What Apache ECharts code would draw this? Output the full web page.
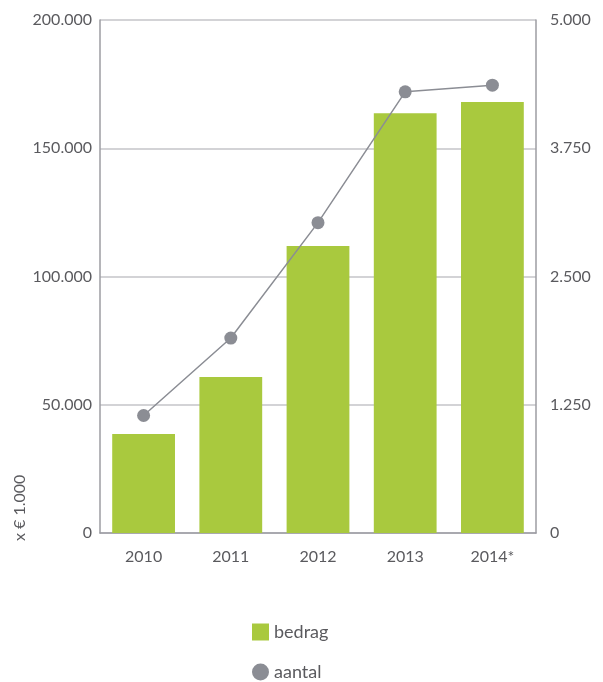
<!DOCTYPE html>
<html>
<head>
<meta charset="utf-8">
<style>
  html, body { margin: 0; padding: 0; background: #fff; }
  #chart { width: 603px; height: 682px; }
</style>
<script src="https://cdn.jsdelivr.net/npm/echarts@6/dist/echarts.min.js"></script>
</head>
<body>
<div id="chart"></div>
<script>
// Jaren, bedrag (x € 1.000) en aantal
const years = ['2010', '2011', '2012', '2013', '2014*'];
const bedrag = [38600, 60800, 111900, 163600, 168000];
const aantal = [1145, 1900, 3025, 4300, 4365];

const leftTicks = [0, 50000, 100000, 150000, 200000];
const rightTicks = [0, 1250, 2500, 3750, 5000];

const fmt = v => v === 0 ? '0' : String(v).replace(/\B(?=(\d{3})+(?!\d))/g, '.');

const FONT = 'Lato, "Noto Sans", sans-serif';
const TEXT = '#5a5a5e';
const AXIS = '#9c9ca2';
const GRID = '#c4c4c8';

const legendText = { color: TEXT, fontSize: 18, fontFamily: FONT };

const chart = echarts.init(document.getElementById('chart'), null, { renderer: 'canvas' });
chart.setOption({
  animation: false,
  textStyle: { fontFamily: FONT },
  grid: { left: 100, right: 67, top: 20, bottom: 149 },
  legend: [
    {
      left: 252, top: 623, padding: 0,
      itemWidth: 17, itemHeight: 17,
      textStyle: legendText,
      data: [{ name: 'bedrag', icon: 'rect' }]
    },
    {
      left: 252, top: 663, padding: 0,
      itemWidth: 17, itemHeight: 17,
      textStyle: legendText,
      data: [{ name: 'aantal', icon: 'circle' }]
    }
  ],
  xAxis: {
    type: 'category',
    data: years,
    boundaryGap: true,
    axisLine: { lineStyle: { color: AXIS, width: 1.5 } },
    axisTick: { inside: true, length: 12, lineStyle: { color: AXIS, width: 1.5 } },
    axisLabel: { color: TEXT, fontSize: 16, margin: 16 }
  },
  yAxis: [
    {
      type: 'value',
      min: leftTicks[0],
      max: leftTicks[leftTicks.length - 1],
      interval: leftTicks[1] - leftTicks[0],
      name: 'x € 1.000',
      nameLocation: 'start',
      nameRotate: 90,
      nameGap: 0,
      nameTextStyle: { color: TEXT, fontSize: 16, align: 'left', verticalAlign: 'bottom', padding: [0, 0, 72, -8] },
      axisLine: { show: true, lineStyle: { color: AXIS, width: 1.5 } },
      axisTick: { show: false },
      axisLabel: { color: TEXT, fontSize: 16, margin: 8, formatter: fmt },
      splitLine: { show: true, lineStyle: { color: GRID, width: 1.5 } }
    },
    {
      type: 'value',
      min: rightTicks[0],
      max: rightTicks[rightTicks.length - 1],
      interval: rightTicks[1] - rightTicks[0],
      position: 'right',
      axisLine: { show: true, lineStyle: { color: AXIS, width: 1.5 } },
      axisTick: { show: false },
      axisLabel: { color: TEXT, fontSize: 16, margin: 14, formatter: fmt },
      splitLine: { show: false }
    }
  ],
  series: [
    {
      name: 'bedrag',
      type: 'bar',
      yAxisIndex: 0,
      data: bedrag,
      barWidth: '72%',
      itemStyle: { color: '#a9c93e' }
    },
    {
      name: 'aantal',
      type: 'line',
      yAxisIndex: 1,
      data: aantal,
      symbol: 'circle',
      symbolSize: 13,
      lineStyle: { color: '#8b8d94', width: 1.5 },
      itemStyle: { color: '#8b8d94' }
    }
  ]
});
</script>
</body>
</html>
